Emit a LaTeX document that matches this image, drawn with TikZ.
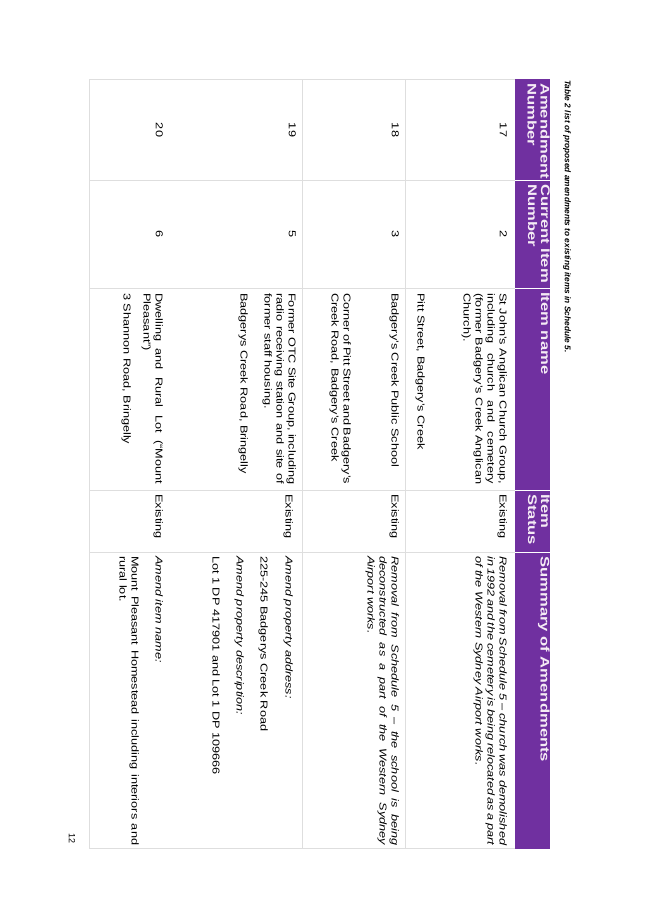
\documentclass[tikz,border=0pt]{standalone}
\usepackage{fontspec}
\setmainfont{Liberation Sans}[FakeStretch=1.27]
\newfontfamily\hdrfont{Liberation Sans}[FakeStretch=1.33]
\newfontfamily\capfont{Liberation Sans}
\hyphenpenalty=10000 \exhyphenpenalty=10000
\begin{document}
\begin{tikzpicture}[x=1pt,y=-1pt,
  txt/.style={rotate=-90,anchor=north west,inner sep=0pt,font=\fontsize{10}{12}\selectfont,align=justify},
  num/.style={rotate=-90,anchor=north,inner sep=0pt,font=\fontsize{10}{12}\selectfont},
  hdr/.style={rotate=-90,anchor=north west,inner sep=0pt,font=\hdrfont\fontsize{12.5}{13}\selectfont\bfseries,text=white!92!violet,align=left},
  grid/.style={draw=black!13,line width=0.8pt}]
\useasboundingbox (0,0) rectangle (653,924);
\fill[white] (0,0) rectangle (653,924);
% header band
\fill[fill={rgb,255:red,112;green,48;blue,160}] (515,79) rectangle (550,849);
\foreach \yy in {180,288,490,552} \draw[white,line width=1pt] (515,\yy) -- (550,\yy);
% grid
\foreach \yy in {79,180,288,490,552,848} \draw[grid] (89,\yy) -- (515,\yy);
\foreach \xx in {89,302,405} \draw[grid] (\xx,79) -- (\xx,848);
% caption & page number
\node[rotate=-90,anchor=north west,inner sep=0pt,font=\capfont\fontsize{8.3}{10}\selectfont\bfseries\itshape] (cap) at (571,80) {Table 2 list of proposed amendments to existing items in Schedule 5.};
\node[rotate=-90,inner sep=0pt,font=\capfont\fontsize{9}{10}\selectfont] (pg) at (72,838) {12};
% headers
\node[hdr] (h1) at (550,83) {Amendment\\Number};
\node[hdr] (h2) at (550,184) {Current Item\\Number};
\node[hdr] (h3) at (550,292) {Item name};
\node[hdr] (h4) at (550,494) {Item\\Status};
\node[hdr] (h5) at (550,556) {Summary of Amendments};
% row 17
\node[num] (a17) at (507,130) {17};
\node[num] (c17) at (507,234) {2};
\node[txt,text width=191pt] (n17) at (507,293) {St John’s Anglican Church Group, including church and cemetery (former Badgery’s Creek Anglican Church).};
\node[txt,text width=191pt] (p17) at (425,293) {Pitt Street, Badgery’s Creek};
\node[txt] (s17) at (507,494) {Existing};
\node[txt,text width=289pt,font=\fontsize{10}{12}\selectfont\itshape] (m17) at (507,556) {Removal from Schedule 5 – church was demolished in 1992 and the cemetery is being relocated as a part of the Western Sydney Airport works.};
% row 18
\node[num] (a18) at (399,130) {18};
\node[num] (c18) at (399,234) {3};
\node[txt,text width=191pt] (n18) at (399,293) {Badgery’s Creek Public School};
\node[txt,text width=191pt] (p18) at (351,293) {Corner of Pitt Street and Badgery’s Creek Road, Badgery’s Creek};
\node[txt] (s18) at (399,494) {Existing};
\node[txt,text width=289pt,font=\fontsize{10}{12}\selectfont\itshape] (m18) at (399,556) {Removal from Schedule 5 – the school is being deconstructed as a part of the Western Sydney Airport works.};
% row 19
\node[num] (a19) at (296,130) {19};
\node[num] (c19) at (296,234) {5};
\node[txt,text width=191pt] (n19) at (296,293) {Former OTC Site Group, including radio receiving station and site of former staff housing.};
\node[txt,text width=191pt] (p19) at (248,293) {Badgerys Creek Road, Bringelly};
\node[txt] (s19) at (293,494) {Existing};
\node[txt,font=\fontsize{10}{12}\selectfont\itshape] (m19a) at (293,556) {Amend property address:};
\node[txt] (m19b) at (268,556) {225-245 Badgerys Creek Road};
\node[txt,font=\fontsize{10}{12}\selectfont\itshape] (m19c) at (244,556) {Amend property description:};
\node[txt] (m19d) at (220,556) {Lot 1 DP 417901 and Lot 1 DP 109666};
% row 20
\node[num] (a20) at (163,130) {20};
\node[num] (c20) at (163,234) {6};
\node[txt,text width=191pt] (n20) at (163,293) {Dwelling and Rural Lot (“Mount Pleasant”)};
\node[txt,text width=191pt] (p20) at (131,293) {3 Shannon Road, Bringelly};
\node[txt] (s20) at (163,494) {Existing};
\node[txt,font=\fontsize{10}{12}\selectfont\itshape] (m20a) at (163,556) {Amend item name:};
\node[txt,text width=289pt] (m20b) at (139,556) {Mount Pleasant Homestead including interiors and rural lot.};
\end{tikzpicture}
\end{document}
